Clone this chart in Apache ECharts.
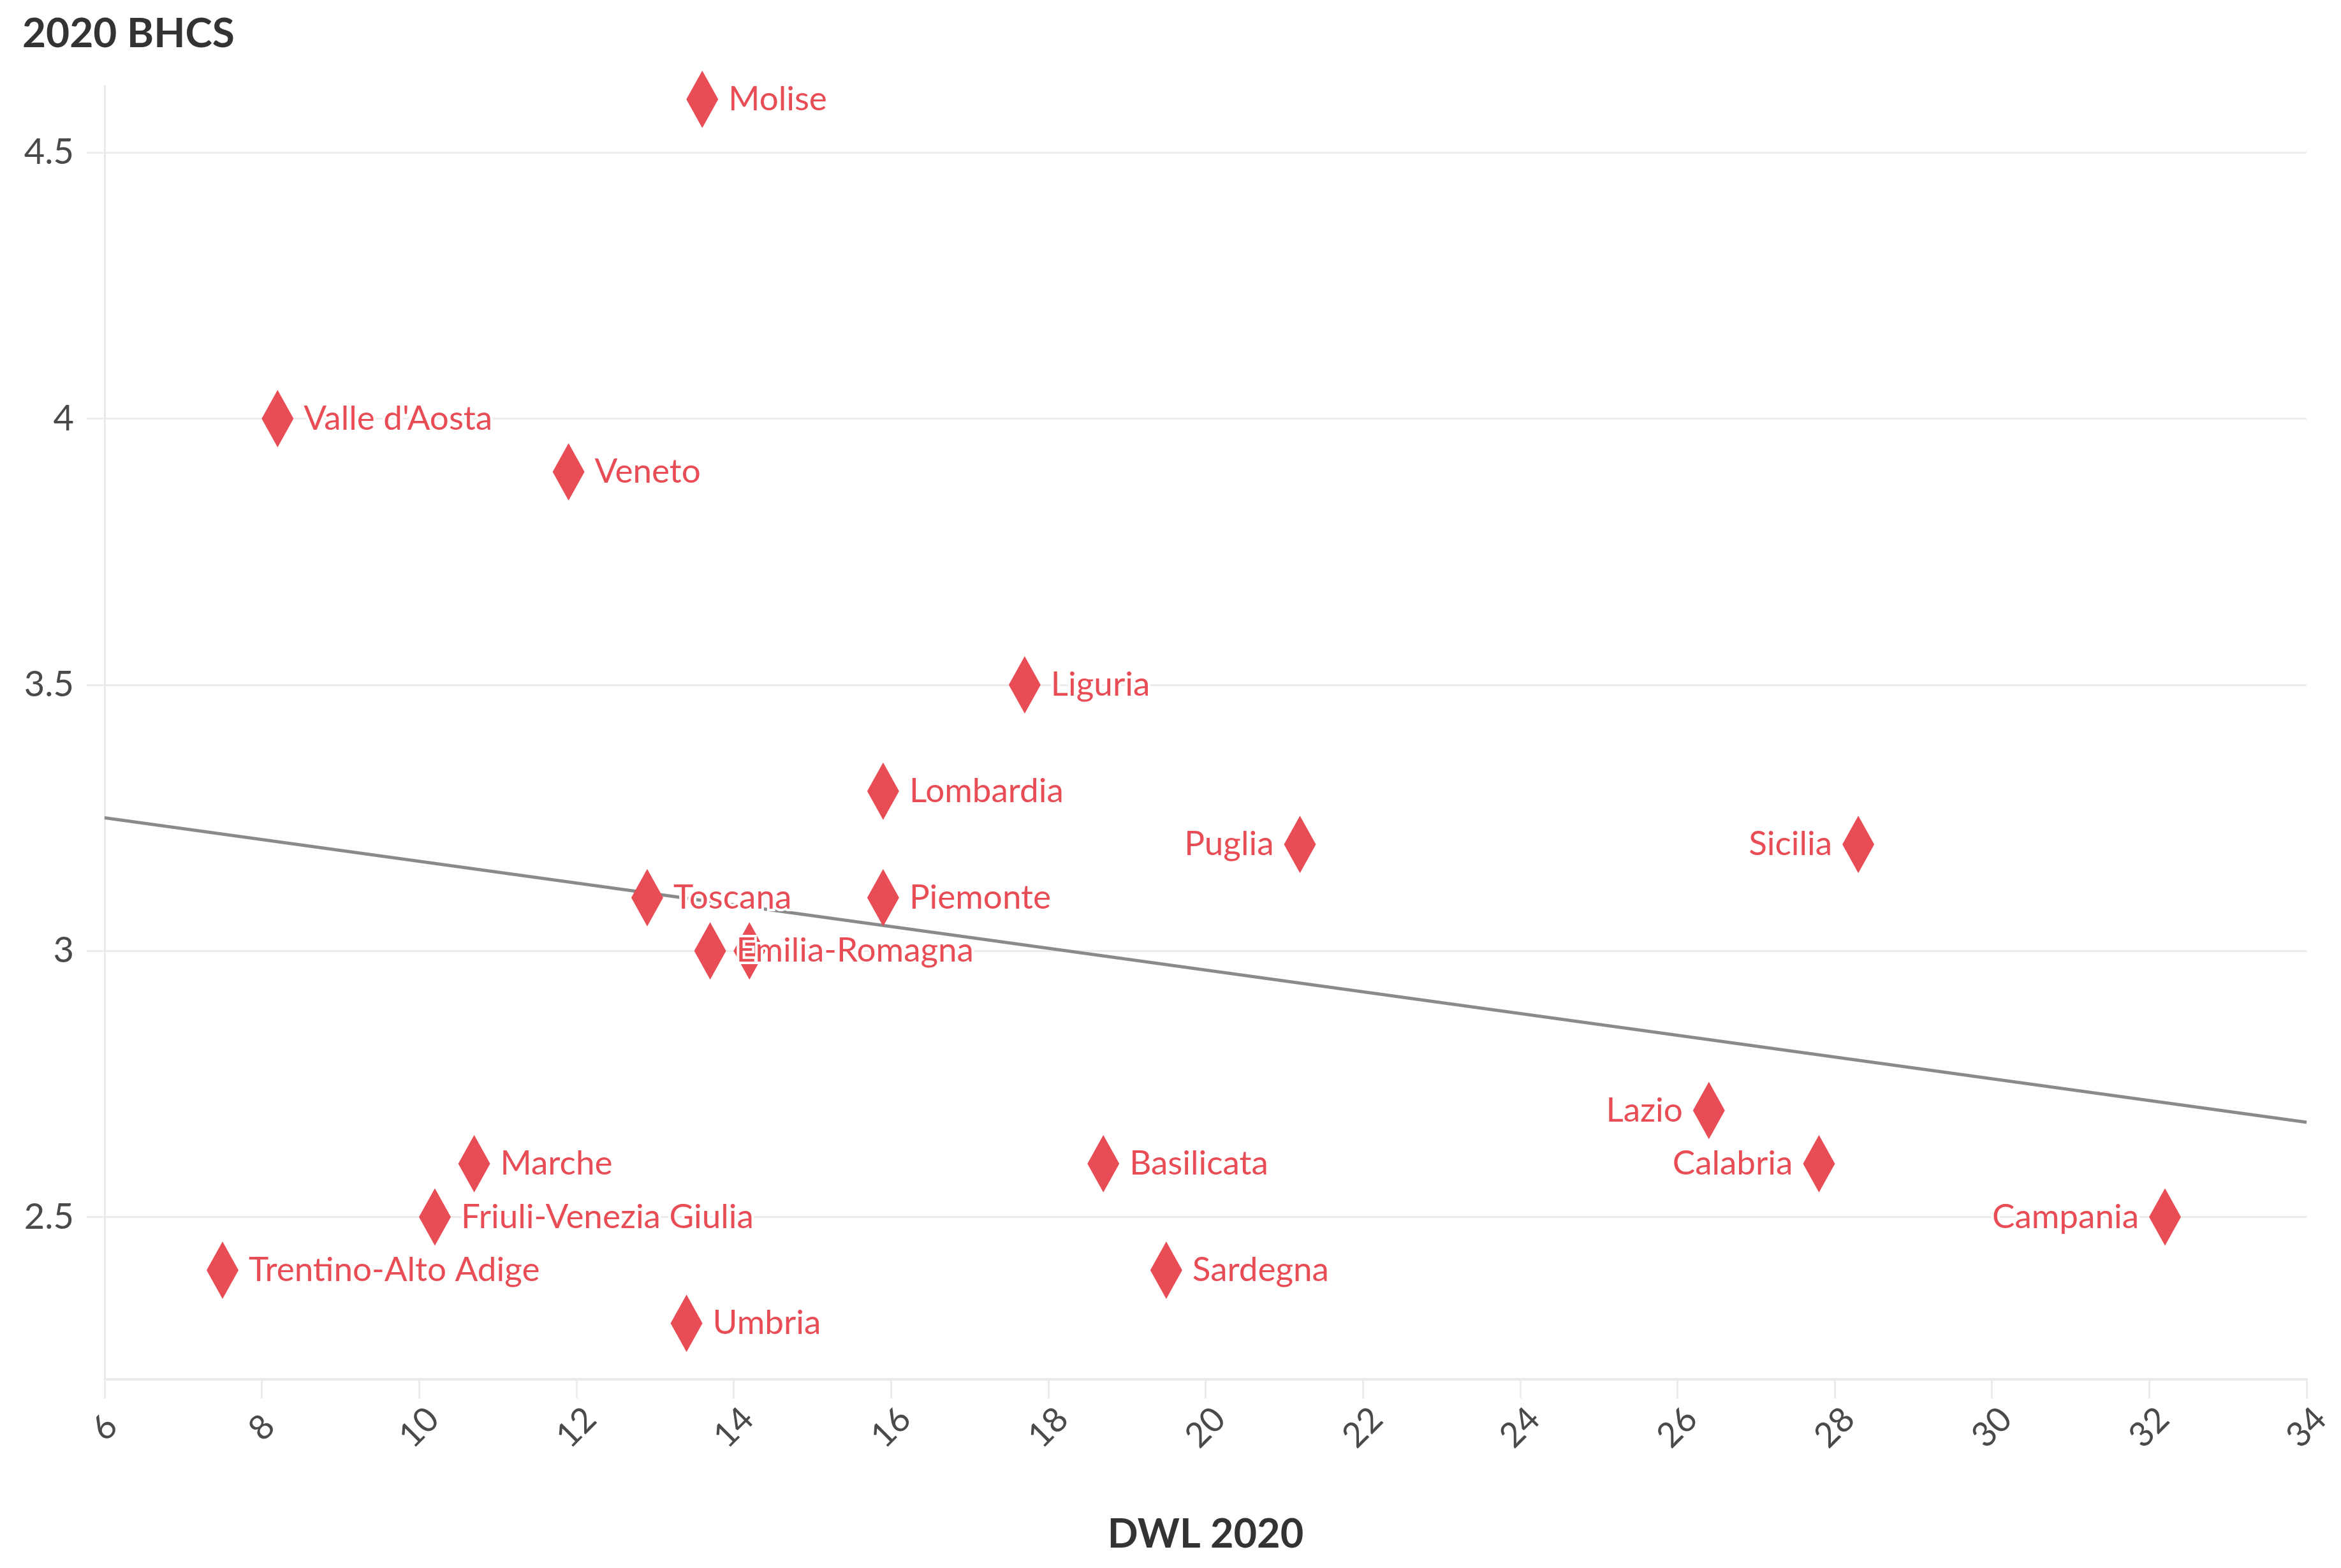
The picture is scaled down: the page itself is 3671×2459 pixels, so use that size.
<!DOCTYPE html>
<html>
<head>
<meta charset="utf-8">
<script src="https://cdn.jsdelivr.net/npm/echarts@6/dist/echarts.min.js"></script>
<style>
html,body{margin:0;padding:0;background:#fff;}
#chart{width:3671px;height:2459px;}
</style>
</head>
<body>
<div id="chart"></div>
<script>
// ---- data ----
const regions = ['Molise','Valle d\'Aosta','Veneto','Liguria','Lombardia','Puglia','Sicilia','Toscana','Piemonte','Abruzzo','Emilia-Romagna','Lazio','Marche','Basilicata','Calabria','Friuli-Venezia Giulia','Campania','Trentino-Alto Adige','Sardegna','Umbria'];
const dwl2020  = [13.6, 8.2, 11.9, 17.7, 15.9, 21.2, 28.3, 12.9, 15.9, 14.2, 13.7, 26.4, 10.7, 18.7, 27.8, 10.2, 32.2, 7.5, 19.5, 13.4];
const bhcs2020 = [4.6, 4.0, 3.9, 3.5, 3.3, 3.2, 3.2, 3.1, 3.1, 3.0, 3.0, 2.7, 2.6, 2.6, 2.6, 2.5, 2.5, 2.4, 2.4, 2.3];
const trendX = [6, 34];
const trendY = [3.25, 2.678];
const yTicks = [2.5, 3, 3.5, 4, 4.5];

// ---- style config ----
const RED = '#e84c55';
const FONT = 'Lato';
const leftLabelled = ['Puglia','Sicilia','Lazio','Calabria','Campania'];
const hiddenLabel = ['Abruzzo'];

const points = regions.map((name, i) => ({
  name: name,
  value: [dwl2020[i], bhcs2020[i]],
  label: {
    show: hiddenLabel.indexOf(name) < 0,
    position: leftLabelled.indexOf(name) >= 0 ? 'left' : 'right'
  }
}));

const chart = echarts.init(document.getElementById('chart'), null, {renderer: 'canvas'});
chart.setOption({
  backgroundColor: '#ffffff',
  animation: false,
  title: {
    text: '2020 BHCS',
    left: 30,
    top: 16,
    textStyle: {fontFamily: FONT, fontSize: 64, fontWeight: 'bold', color: '#333333'}
  },
  grid: {left: 164, right: 54, top: 135, bottom: 296, containLabel: false},
  xAxis: {
    type: 'value',
    min: 6, max: 34, interval: 2,
    name: 'DWL 2020',
    nameLocation: 'middle',
    nameGap: 212,
    nameTextStyle: {fontFamily: FONT, fontSize: 63, fontWeight: 'bold', color: '#333333'},
    axisLine: {show: true, lineStyle: {color: '#e9e9e9', width: 4}},
    axisTick: {show: true, length: 30, lineStyle: {color: '#ececec', width: 3}},
    axisLabel: {
      rotate: 45, align: 'center', verticalAlign: 'middle', margin: 76,
      fontFamily: FONT, fontSize: 54, color: '#4a4a4a'
    },
    splitLine: {show: false}
  },
  yAxis: {
    type: 'value',
    min: 2.195, max: 4.625,
    axisLine: {show: true, lineStyle: {color: '#e9e9e9', width: 3}},
    axisTick: {show: true, length: 28, customValues: yTicks, lineStyle: {color: '#ececec', width: 3}},
    axisLabel: {customValues: yTicks, margin: 48, fontFamily: FONT, fontSize: 56, color: '#4a4a4a'},
    splitLine: {show: true, lineStyle: {color: '#ececec', width: 3}}
  },
  series: [
    {
      type: 'scatter',
      z: 2,
      symbol: 'diamond',
      symbolSize: [50, 90],
      itemStyle: {color: RED, opacity: 1},
      label: {
        distance: 16,
        formatter: p => p.name,
        fontFamily: FONT, fontSize: 53, color: RED,
        textBorderColor: '#ffffff', textBorderWidth: 8
      },
      data: points
    },
    {
      type: 'line',
      z: 2,
      showSymbol: false,
      symbol: 'none',
      silent: true,
      lineStyle: {color: '#8a8a8a', width: 5},
      data: trendX.map((x, i) => [x, trendY[i]])
    }
  ]
});
</script>
</body>
</html>
